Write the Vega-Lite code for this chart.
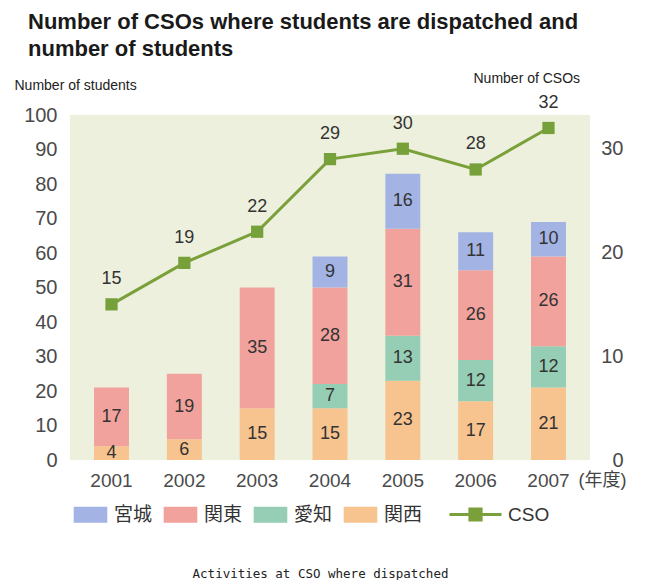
{
  "$schema": "https://vega.github.io/schema/vega-lite/v6.json",
  "width": 520,
  "height": 345,
  "autosize": {"type": "none"},
  "padding": {"left": 70, "top": 115, "right": 63, "bottom": 120},
  "background": "white",
  "title": {
    "text": ["Number of CSOs where students are dispatched and", "number of students"],
    "anchor": "start",
    "frame": "group",
    "dx": -42,
    "offset": 10,
    "font": "Liberation Sans",
    "fontSize": 22,
    "fontWeight": "bold",
    "color": "#1a1a1a",
    "lineHeight": 27
  },
  "config": {
    "view": {"fill": "#eef0de", "stroke": null},
    "axis": {
      "grid": false,
      "domain": false,
      "ticks": false,
      "labelFont": "Liberation Sans",
      "labelFontSize": 19,
      "labelColor": "#4a4a4a",
      "labelOverlap": false,
      "titleFont": "Liberation Sans",
      "titleFontSize": 14,
      "titleFontWeight": "normal",
      "titleColor": "#222222"
    },
    "legend": {"padding": 0}
  },
  "datasets": {
    "students": [
      {"year": "2001", "region": "関西", "students": 4},
      {"year": "2001", "region": "関東", "students": 17},
      {"year": "2002", "region": "関西", "students": 6},
      {"year": "2002", "region": "関東", "students": 19},
      {"year": "2003", "region": "関西", "students": 15},
      {"year": "2003", "region": "関東", "students": 35},
      {"year": "2004", "region": "関西", "students": 15},
      {"year": "2004", "region": "愛知", "students": 7},
      {"year": "2004", "region": "関東", "students": 28},
      {"year": "2004", "region": "宮城", "students": 9},
      {"year": "2005", "region": "関西", "students": 23},
      {"year": "2005", "region": "愛知", "students": 13},
      {"year": "2005", "region": "関東", "students": 31},
      {"year": "2005", "region": "宮城", "students": 16},
      {"year": "2006", "region": "関西", "students": 17},
      {"year": "2006", "region": "愛知", "students": 12},
      {"year": "2006", "region": "関東", "students": 26},
      {"year": "2006", "region": "宮城", "students": 11},
      {"year": "2007", "region": "関西", "students": 21},
      {"year": "2007", "region": "愛知", "students": 12},
      {"year": "2007", "region": "関東", "students": 26},
      {"year": "2007", "region": "宮城", "students": 10}
    ],
    "cso": [
      {"year": "2001", "cso": 15},
      {"year": "2002", "cso": 19},
      {"year": "2003", "cso": 22},
      {"year": "2004", "cso": 29},
      {"year": "2005", "cso": 30},
      {"year": "2006", "cso": 28},
      {"year": "2007", "cso": 32}
    ]
  },
  "layer": [
    {
      "data": {"name": "students"},
      "transform": [
        {"calculate": "indexof(['関西','愛知','関東','宮城'], datum.region)", "as": "ord"},
        {"stack": "students", "groupby": ["year"], "sort": [{"field": "ord", "order": "ascending"}], "as": ["y0", "y1"]},
        {"calculate": "(datum.y0 + datum.y1) / 2", "as": "ymid"}
      ],
      "encoding": {
        "x": {
          "field": "year",
          "type": "ordinal",
          "scale": {"paddingInner": 0.52, "paddingOuter": 0.33},
          "axis": {
            "orient": "bottom",
            "labelAngle": 0,
            "labelPadding": 11,
            "title": "(年度)",
            "titleFont": "Liberation Sans, Noto Sans CJK JP",
            "titleFontSize": 18,
            "titleColor": "#444444",
            "titleAlign": "left",
            "titleBaseline": "middle",
            "titleAnchor": "start",
            "titleX": 508,
            "titleY": 20
          }
        },
        "y": {
          "field": "y1",
          "type": "quantitative",
          "scale": {"domain": [0, 100], "nice": false},
          "axis": {
            "values": [0, 10, 20, 30, 40, 50, 60, 70, 80, 90, 100],
            "labelOverlap": false,
            "labelPadding": 13,
            "labelFontSize": 20,
            "title": "Number of students",
            "titleAngle": 0,
            "titleAlign": "left",
            "titleBaseline": "middle",
            "titleX": -56,
            "titleY": -30
          }
        }
      },
      "layer": [
        {
          "mark": {"type": "bar"},
          "encoding": {
            "y2": {"field": "y0"},
            "color": {
              "field": "region",
              "type": "nominal",
              "scale": {
                "domain": ["宮城", "関東", "愛知", "関西"],
                "range": ["#a3b3e3", "#f2a29c", "#95cdb5", "#f7c38f"]
              },
              "legend": {
                "title": null,
                "orient": "none",
                "direction": "horizontal",
                "legendX": 11,
                "legendY": 390,
                "symbolType": "M-2.1,-1H2.1V1H-2.1Z",
                "symbolSize": 256,
                "symbolStrokeWidth": 0,
                "labelOffset": 14,
                "columnPadding": 10,
                "labelFont": "Liberation Sans, Noto Sans CJK JP",
                "labelFontSize": 19,
                "labelColor": "#333333"
              }
            }
          }
        },
        {
          "mark": {"type": "text", "fontSize": 18, "font": "Liberation Sans", "color": "#333333", "baseline": "middle"},
          "encoding": {
            "y": {"field": "ymid", "type": "quantitative"},
            "text": {"field": "students", "type": "quantitative"}
          }
        }
      ]
    },
    {
      "data": {"name": "cso"},
      "encoding": {
        "x": {
          "field": "year",
          "type": "ordinal",
          "axis": {
            "orient": "bottom",
            "labels": false,
            "title": "Activities at CSO where dispatched",
            "titleFont": "DejaVu Sans Mono",
            "titleFontSize": 12.5,
            "titleColor": "#222222",
            "titleAlign": "center",
            "titleBaseline": "middle",
            "titleX": 250,
            "titleY": 113
          }
        },
        "y": {
          "field": "cso",
          "type": "quantitative",
          "scale": {"domain": [0, 33.25], "nice": false},
          "axis": {
            "orient": "right",
            "values": [0, 10, 20, 30],
            "labelAlign": "right",
            "labelPadding": 33,
            "labelFontSize": 20,
            "title": "Number of CSOs",
            "titleAngle": 0,
            "titleAlign": "left",
            "titleBaseline": "middle",
            "titleX": -117,
            "titleY": -37
          }
        }
      },
      "layer": [
        {
          "mark": {"type": "line", "strokeWidth": 3},
          "encoding": {
            "stroke": {
              "datum": "CSO",
              "type": "nominal",
              "scale": {"range": ["#7aa03a"]},
              "legend": {
                "title": null,
                "orient": "none",
                "legendX": 396,
                "legendY": 390,
                "symbolType": "M-3.25,0H3.25M-0.7,-0.7H0.7V0.7H-0.7Z",
                "symbolSize": 256,
                "symbolStrokeWidth": 3,
                "symbolFillColor": "#7aa03a",
                "labelOffset": 23,
                "labelFont": "Liberation Sans",
                "labelFontSize": 19,
                "labelColor": "#333333"
              }
            }
          }
        },
        {
          "mark": {"type": "square", "size": 150, "color": "#76a03a", "opacity": 1, "filled": true}
        },
        {
          "mark": {"type": "text", "fontSize": 18, "font": "Liberation Sans", "color": "#333333", "dy": -25, "baseline": "middle"},
          "encoding": {"text": {"field": "cso", "type": "quantitative"}}
        }
      ]
    }
  ],
  "resolve": {
    "scale": {"y": "independent", "color": "independent", "stroke": "independent"},
    "axis": {"x": "independent"},
    "legend": {"color": "independent", "stroke": "independent"}
  }
}
